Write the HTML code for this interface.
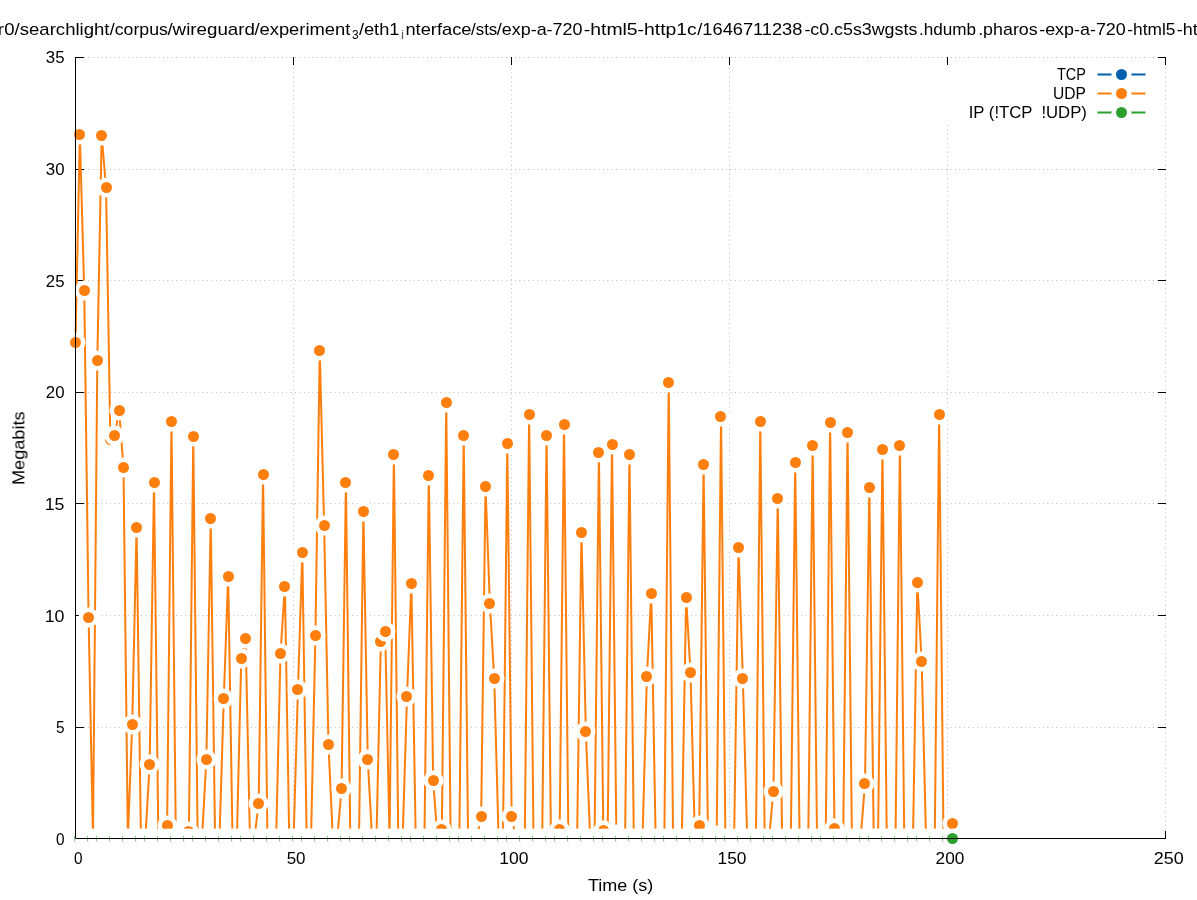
<!DOCTYPE html>
<html><head><meta charset="utf-8"><title>plot</title>
<style>html,body{margin:0;padding:0;background:#fff;}svg{display:block;}text{font-family:"Liberation Sans",sans-serif;fill:#000;}</style></head><body>
<svg width="1197" height="900" viewBox="0 0 1197 900">
<rect x="0" y="0" width="1197" height="900" fill="#fff"/>
<g stroke="#bcbcbc" stroke-width="1" stroke-dasharray="1 3.4" fill="none">
<line x1="75.0" y1="727.5" x2="1166.0" y2="727.5"/>
<line x1="75.0" y1="615.5" x2="1166.0" y2="615.5"/>
<line x1="75.0" y1="503.5" x2="1166.0" y2="503.5"/>
<line x1="75.0" y1="392.5" x2="1166.0" y2="392.5"/>
<line x1="75.0" y1="280.5" x2="1166.0" y2="280.5"/>
<line x1="75.0" y1="169.5" x2="1166.0" y2="169.5"/>
<line x1="75.0" y1="57.5" x2="1166.0" y2="57.5"/>
<line x1="293.5" y1="839.0" x2="293.5" y2="57.0"/>
<line x1="511.5" y1="839.0" x2="511.5" y2="57.0"/>
<line x1="729.5" y1="839.0" x2="729.5" y2="57.0"/>
<line x1="947.5" y1="839.0" x2="947.5" y2="57.0"/>
<line x1="1165.5" y1="839.0" x2="1165.5" y2="57.0"/>
</g>
<g stroke="#000" stroke-width="1" fill="none">
<line x1="75.5" y1="838.5" x2="84.0" y2="838.5"/>
<line x1="1166.0" y1="838.5" x2="1158.0" y2="838.5"/>
<line x1="75.5" y1="727.5" x2="84.0" y2="727.5"/>
<line x1="1166.0" y1="727.5" x2="1158.0" y2="727.5"/>
<line x1="75.5" y1="615.5" x2="84.0" y2="615.5"/>
<line x1="1166.0" y1="615.5" x2="1158.0" y2="615.5"/>
<line x1="75.5" y1="503.5" x2="84.0" y2="503.5"/>
<line x1="1166.0" y1="503.5" x2="1158.0" y2="503.5"/>
<line x1="75.5" y1="392.5" x2="84.0" y2="392.5"/>
<line x1="1166.0" y1="392.5" x2="1158.0" y2="392.5"/>
<line x1="75.5" y1="280.5" x2="84.0" y2="280.5"/>
<line x1="1166.0" y1="280.5" x2="1158.0" y2="280.5"/>
<line x1="75.5" y1="169.5" x2="84.0" y2="169.5"/>
<line x1="1166.0" y1="169.5" x2="1158.0" y2="169.5"/>
<line x1="75.5" y1="57.5" x2="84.0" y2="57.5"/>
<line x1="1166.0" y1="57.5" x2="1158.0" y2="57.5"/>
<line x1="75.5" y1="838.5" x2="75.5" y2="831.0"/>
<line x1="75.5" y1="57.0" x2="75.5" y2="65.0"/>
<line x1="293.5" y1="838.5" x2="293.5" y2="831.0"/>
<line x1="293.5" y1="57.0" x2="293.5" y2="65.0"/>
<line x1="511.5" y1="838.5" x2="511.5" y2="831.0"/>
<line x1="511.5" y1="57.0" x2="511.5" y2="65.0"/>
<line x1="729.5" y1="838.5" x2="729.5" y2="831.0"/>
<line x1="729.5" y1="57.0" x2="729.5" y2="65.0"/>
<line x1="947.5" y1="838.5" x2="947.5" y2="831.0"/>
<line x1="947.5" y1="57.0" x2="947.5" y2="65.0"/>
<line x1="1165.5" y1="838.5" x2="1165.5" y2="831.0"/>
<line x1="1165.5" y1="57.0" x2="1165.5" y2="65.0"/>
</g>
<rect x="945" y="65" width="210" height="57" fill="#fff"/>
<polyline fill="none" stroke="#ff7f0e" stroke-width="2" stroke-linejoin="round" stroke-linecap="butt" points="75.50,342.5 79.86,134.5 84.22,290.5 88.59,617.5 92.95,838.5 97.31,360.5 101.67,135.5 106.03,187.5 110.39,439.5 114.76,435.5 119.12,410.5 123.48,467.5 127.84,838.5 132.20,724.5 136.57,527.5 140.93,838.5 145.29,838.5 149.65,764.5 154.01,482.5 158.37,838.5 162.74,838.5 167.10,825.5 171.46,421.5 175.82,838.5 180.18,838.5 184.54,838.5 188.91,831.5 193.27,436.5 197.63,838.5 201.99,838.5 206.35,759.5 210.72,518.5 215.08,838.5 219.44,838.5 223.80,698.5 228.16,576.5 232.52,838.5 236.89,838.5 241.25,658.5 245.61,638.5 249.97,838.5 254.33,838.5 258.70,803.5 263.06,474.5 267.42,838.5 271.78,838.5 276.14,838.5 280.50,653.5 284.87,586.5 289.23,838.5 293.59,838.5 297.95,689.5 302.31,552.5 306.68,838.5 311.04,838.5 315.40,635.5 319.76,350.5 324.12,525.5 328.48,744.5 332.85,838.5 337.21,838.5 341.57,788.5 345.93,482.5 350.29,838.5 354.66,838.5 359.02,838.5 363.38,511.5 367.74,759.5 372.10,838.5 376.46,838.5 380.83,641.5 385.19,631.5 389.55,838.5 393.91,454.5 398.27,838.5 402.63,838.5 407.00,696.5 411.36,583.5 415.72,838.5 420.08,838.5 424.44,838.5 428.81,475.5 433.17,780.5 437.53,838.5 441.89,829.5 446.25,402.5 450.61,838.5 454.98,838.5 459.34,838.5 463.70,435.5 468.06,838.5 472.42,838.5 476.79,838.5 481.15,816.5 485.51,486.5 489.87,603.5 494.23,678.5 498.59,838.5 502.96,838.5 507.32,443.5 511.68,816.5 516.04,838.5 520.40,838.5 524.77,838.5 529.13,414.5 533.49,838.5 537.85,838.5 542.21,838.5 546.57,435.5 550.94,838.5 555.30,838.5 559.66,829.5 564.02,424.5 568.38,838.5 572.75,838.5 577.11,838.5 581.47,532.5 585.83,731.5 590.19,838.5 594.55,838.5 598.92,452.5 603.28,830.5 607.64,838.5 612.00,444.5 616.36,834.5 620.72,838.5 625.09,838.5 629.45,454.5 633.81,838.5 638.17,838.5 642.53,838.5 646.90,676.5 651.26,593.5 655.62,838.5 659.98,838.5 664.34,838.5 668.70,382.5 673.07,838.5 677.43,838.5 681.79,838.5 686.15,597.5 690.51,672.5 694.88,838.5 699.24,825.5 703.60,464.5 707.96,838.5 712.32,838.5 716.68,835.5 721.05,416.5 725.41,838.5 729.77,838.5 734.13,838.5 738.49,547.5 742.86,678.5 747.22,838.5 751.58,838.5 755.94,838.5 760.30,421.5 764.66,838.5 769.03,838.5 773.39,791.5 777.75,498.5 782.11,838.5 786.47,838.5 790.84,838.5 795.20,462.5 799.56,838.5 803.92,838.5 808.28,838.5 812.64,445.5 817.01,838.5 821.37,838.5 825.73,838.5 830.09,422.5 834.45,828.5 838.81,838.5 843.18,838.5 847.54,432.5 851.90,838.5 856.26,838.5 860.62,838.5 864.99,783.5 869.35,487.5 873.71,838.5 878.07,838.5 882.43,449.5 886.79,838.5 891.16,838.5 895.52,838.5 899.88,445.5 904.24,838.5 908.60,838.5 912.97,838.5 917.33,582.5 921.69,661.5 926.05,838.5 930.41,838.5 934.77,838.5 939.14,414.5 943.50,838.5 947.86,838.5 952.22,823.5"/>
<circle cx="75.5" cy="342.5" r="10.0" fill="#fff"/><circle cx="75.5" cy="342.5" r="5.5" fill="#ff7f0e"/>
<circle cx="79.5" cy="134.5" r="10.0" fill="#fff"/><circle cx="79.5" cy="134.5" r="5.5" fill="#ff7f0e"/>
<circle cx="84.5" cy="290.5" r="10.0" fill="#fff"/><circle cx="84.5" cy="290.5" r="5.5" fill="#ff7f0e"/>
<circle cx="88.5" cy="617.5" r="10.0" fill="#fff"/><circle cx="88.5" cy="617.5" r="5.5" fill="#ff7f0e"/>
<circle cx="97.5" cy="360.5" r="10.0" fill="#fff"/><circle cx="97.5" cy="360.5" r="5.5" fill="#ff7f0e"/>
<circle cx="101.5" cy="135.5" r="10.0" fill="#fff"/><circle cx="101.5" cy="135.5" r="5.5" fill="#ff7f0e"/>
<circle cx="106.5" cy="187.5" r="10.0" fill="#fff"/><circle cx="106.5" cy="187.5" r="5.5" fill="#ff7f0e"/>
<circle cx="110.5" cy="439.5" r="10.0" fill="#fff"/><circle cx="110.5" cy="439.5" r="5.5" fill="#ff7f0e"/>
<circle cx="114.5" cy="435.5" r="10.0" fill="#fff"/><circle cx="114.5" cy="435.5" r="5.5" fill="#ff7f0e"/>
<circle cx="119.5" cy="410.5" r="10.0" fill="#fff"/><circle cx="119.5" cy="410.5" r="5.5" fill="#ff7f0e"/>
<circle cx="123.5" cy="467.5" r="10.0" fill="#fff"/><circle cx="123.5" cy="467.5" r="5.5" fill="#ff7f0e"/>
<circle cx="132.5" cy="724.5" r="10.0" fill="#fff"/><circle cx="132.5" cy="724.5" r="5.5" fill="#ff7f0e"/>
<circle cx="136.5" cy="527.5" r="10.0" fill="#fff"/><circle cx="136.5" cy="527.5" r="5.5" fill="#ff7f0e"/>
<circle cx="149.5" cy="764.5" r="10.0" fill="#fff"/><circle cx="149.5" cy="764.5" r="5.5" fill="#ff7f0e"/>
<circle cx="154.5" cy="482.5" r="10.0" fill="#fff"/><circle cx="154.5" cy="482.5" r="5.5" fill="#ff7f0e"/>
<circle cx="167.5" cy="825.5" r="10.0" fill="#fff"/><circle cx="167.5" cy="825.5" r="5.5" fill="#ff7f0e"/>
<circle cx="171.5" cy="421.5" r="10.0" fill="#fff"/><circle cx="171.5" cy="421.5" r="5.5" fill="#ff7f0e"/>
<circle cx="188.5" cy="831.5" r="10.0" fill="#fff"/><circle cx="188.5" cy="831.5" r="5.5" fill="#ff7f0e"/>
<circle cx="193.5" cy="436.5" r="10.0" fill="#fff"/><circle cx="193.5" cy="436.5" r="5.5" fill="#ff7f0e"/>
<circle cx="206.5" cy="759.5" r="10.0" fill="#fff"/><circle cx="206.5" cy="759.5" r="5.5" fill="#ff7f0e"/>
<circle cx="210.5" cy="518.5" r="10.0" fill="#fff"/><circle cx="210.5" cy="518.5" r="5.5" fill="#ff7f0e"/>
<circle cx="223.5" cy="698.5" r="10.0" fill="#fff"/><circle cx="223.5" cy="698.5" r="5.5" fill="#ff7f0e"/>
<circle cx="228.5" cy="576.5" r="10.0" fill="#fff"/><circle cx="228.5" cy="576.5" r="5.5" fill="#ff7f0e"/>
<circle cx="241.5" cy="658.5" r="10.0" fill="#fff"/><circle cx="241.5" cy="658.5" r="5.5" fill="#ff7f0e"/>
<circle cx="245.5" cy="638.5" r="10.0" fill="#fff"/><circle cx="245.5" cy="638.5" r="5.5" fill="#ff7f0e"/>
<circle cx="258.5" cy="803.5" r="10.0" fill="#fff"/><circle cx="258.5" cy="803.5" r="5.5" fill="#ff7f0e"/>
<circle cx="263.5" cy="474.5" r="10.0" fill="#fff"/><circle cx="263.5" cy="474.5" r="5.5" fill="#ff7f0e"/>
<circle cx="280.5" cy="653.5" r="10.0" fill="#fff"/><circle cx="280.5" cy="653.5" r="5.5" fill="#ff7f0e"/>
<circle cx="284.5" cy="586.5" r="10.0" fill="#fff"/><circle cx="284.5" cy="586.5" r="5.5" fill="#ff7f0e"/>
<circle cx="297.5" cy="689.5" r="10.0" fill="#fff"/><circle cx="297.5" cy="689.5" r="5.5" fill="#ff7f0e"/>
<circle cx="302.5" cy="552.5" r="10.0" fill="#fff"/><circle cx="302.5" cy="552.5" r="5.5" fill="#ff7f0e"/>
<circle cx="315.5" cy="635.5" r="10.0" fill="#fff"/><circle cx="315.5" cy="635.5" r="5.5" fill="#ff7f0e"/>
<circle cx="319.5" cy="350.5" r="10.0" fill="#fff"/><circle cx="319.5" cy="350.5" r="5.5" fill="#ff7f0e"/>
<circle cx="324.5" cy="525.5" r="10.0" fill="#fff"/><circle cx="324.5" cy="525.5" r="5.5" fill="#ff7f0e"/>
<circle cx="328.5" cy="744.5" r="10.0" fill="#fff"/><circle cx="328.5" cy="744.5" r="5.5" fill="#ff7f0e"/>
<circle cx="341.5" cy="788.5" r="10.0" fill="#fff"/><circle cx="341.5" cy="788.5" r="5.5" fill="#ff7f0e"/>
<circle cx="345.5" cy="482.5" r="10.0" fill="#fff"/><circle cx="345.5" cy="482.5" r="5.5" fill="#ff7f0e"/>
<circle cx="363.5" cy="511.5" r="10.0" fill="#fff"/><circle cx="363.5" cy="511.5" r="5.5" fill="#ff7f0e"/>
<circle cx="367.5" cy="759.5" r="10.0" fill="#fff"/><circle cx="367.5" cy="759.5" r="5.5" fill="#ff7f0e"/>
<circle cx="380.5" cy="641.5" r="10.0" fill="#fff"/><circle cx="380.5" cy="641.5" r="5.5" fill="#ff7f0e"/>
<circle cx="385.5" cy="631.5" r="10.0" fill="#fff"/><circle cx="385.5" cy="631.5" r="5.5" fill="#ff7f0e"/>
<circle cx="393.5" cy="454.5" r="10.0" fill="#fff"/><circle cx="393.5" cy="454.5" r="5.5" fill="#ff7f0e"/>
<circle cx="406.5" cy="696.5" r="10.0" fill="#fff"/><circle cx="406.5" cy="696.5" r="5.5" fill="#ff7f0e"/>
<circle cx="411.5" cy="583.5" r="10.0" fill="#fff"/><circle cx="411.5" cy="583.5" r="5.5" fill="#ff7f0e"/>
<circle cx="428.5" cy="475.5" r="10.0" fill="#fff"/><circle cx="428.5" cy="475.5" r="5.5" fill="#ff7f0e"/>
<circle cx="433.5" cy="780.5" r="10.0" fill="#fff"/><circle cx="433.5" cy="780.5" r="5.5" fill="#ff7f0e"/>
<circle cx="441.5" cy="829.5" r="10.0" fill="#fff"/><circle cx="441.5" cy="829.5" r="5.5" fill="#ff7f0e"/>
<circle cx="446.5" cy="402.5" r="10.0" fill="#fff"/><circle cx="446.5" cy="402.5" r="5.5" fill="#ff7f0e"/>
<circle cx="463.5" cy="435.5" r="10.0" fill="#fff"/><circle cx="463.5" cy="435.5" r="5.5" fill="#ff7f0e"/>
<circle cx="481.5" cy="816.5" r="10.0" fill="#fff"/><circle cx="481.5" cy="816.5" r="5.5" fill="#ff7f0e"/>
<circle cx="485.5" cy="486.5" r="10.0" fill="#fff"/><circle cx="485.5" cy="486.5" r="5.5" fill="#ff7f0e"/>
<circle cx="489.5" cy="603.5" r="10.0" fill="#fff"/><circle cx="489.5" cy="603.5" r="5.5" fill="#ff7f0e"/>
<circle cx="494.5" cy="678.5" r="10.0" fill="#fff"/><circle cx="494.5" cy="678.5" r="5.5" fill="#ff7f0e"/>
<circle cx="507.5" cy="443.5" r="10.0" fill="#fff"/><circle cx="507.5" cy="443.5" r="5.5" fill="#ff7f0e"/>
<circle cx="511.5" cy="816.5" r="10.0" fill="#fff"/><circle cx="511.5" cy="816.5" r="5.5" fill="#ff7f0e"/>
<circle cx="529.5" cy="414.5" r="10.0" fill="#fff"/><circle cx="529.5" cy="414.5" r="5.5" fill="#ff7f0e"/>
<circle cx="546.5" cy="435.5" r="10.0" fill="#fff"/><circle cx="546.5" cy="435.5" r="5.5" fill="#ff7f0e"/>
<circle cx="559.5" cy="829.5" r="10.0" fill="#fff"/><circle cx="559.5" cy="829.5" r="5.5" fill="#ff7f0e"/>
<circle cx="564.5" cy="424.5" r="10.0" fill="#fff"/><circle cx="564.5" cy="424.5" r="5.5" fill="#ff7f0e"/>
<circle cx="581.5" cy="532.5" r="10.0" fill="#fff"/><circle cx="581.5" cy="532.5" r="5.5" fill="#ff7f0e"/>
<circle cx="585.5" cy="731.5" r="10.0" fill="#fff"/><circle cx="585.5" cy="731.5" r="5.5" fill="#ff7f0e"/>
<circle cx="598.5" cy="452.5" r="10.0" fill="#fff"/><circle cx="598.5" cy="452.5" r="5.5" fill="#ff7f0e"/>
<circle cx="603.5" cy="830.5" r="10.0" fill="#fff"/><circle cx="603.5" cy="830.5" r="5.5" fill="#ff7f0e"/>
<circle cx="612.5" cy="444.5" r="10.0" fill="#fff"/><circle cx="612.5" cy="444.5" r="5.5" fill="#ff7f0e"/>
<circle cx="616.5" cy="834.5" r="10.0" fill="#fff"/><circle cx="616.5" cy="834.5" r="5.5" fill="#ff7f0e"/>
<circle cx="629.5" cy="454.5" r="10.0" fill="#fff"/><circle cx="629.5" cy="454.5" r="5.5" fill="#ff7f0e"/>
<circle cx="646.5" cy="676.5" r="10.0" fill="#fff"/><circle cx="646.5" cy="676.5" r="5.5" fill="#ff7f0e"/>
<circle cx="651.5" cy="593.5" r="10.0" fill="#fff"/><circle cx="651.5" cy="593.5" r="5.5" fill="#ff7f0e"/>
<circle cx="668.5" cy="382.5" r="10.0" fill="#fff"/><circle cx="668.5" cy="382.5" r="5.5" fill="#ff7f0e"/>
<circle cx="686.5" cy="597.5" r="10.0" fill="#fff"/><circle cx="686.5" cy="597.5" r="5.5" fill="#ff7f0e"/>
<circle cx="690.5" cy="672.5" r="10.0" fill="#fff"/><circle cx="690.5" cy="672.5" r="5.5" fill="#ff7f0e"/>
<circle cx="699.5" cy="825.5" r="10.0" fill="#fff"/><circle cx="699.5" cy="825.5" r="5.5" fill="#ff7f0e"/>
<circle cx="703.5" cy="464.5" r="10.0" fill="#fff"/><circle cx="703.5" cy="464.5" r="5.5" fill="#ff7f0e"/>
<circle cx="716.5" cy="835.5" r="10.0" fill="#fff"/><circle cx="716.5" cy="835.5" r="5.5" fill="#ff7f0e"/>
<circle cx="720.5" cy="416.5" r="10.0" fill="#fff"/><circle cx="720.5" cy="416.5" r="5.5" fill="#ff7f0e"/>
<circle cx="738.5" cy="547.5" r="10.0" fill="#fff"/><circle cx="738.5" cy="547.5" r="5.5" fill="#ff7f0e"/>
<circle cx="742.5" cy="678.5" r="10.0" fill="#fff"/><circle cx="742.5" cy="678.5" r="5.5" fill="#ff7f0e"/>
<circle cx="760.5" cy="421.5" r="10.0" fill="#fff"/><circle cx="760.5" cy="421.5" r="5.5" fill="#ff7f0e"/>
<circle cx="773.5" cy="791.5" r="10.0" fill="#fff"/><circle cx="773.5" cy="791.5" r="5.5" fill="#ff7f0e"/>
<circle cx="777.5" cy="498.5" r="10.0" fill="#fff"/><circle cx="777.5" cy="498.5" r="5.5" fill="#ff7f0e"/>
<circle cx="795.5" cy="462.5" r="10.0" fill="#fff"/><circle cx="795.5" cy="462.5" r="5.5" fill="#ff7f0e"/>
<circle cx="812.5" cy="445.5" r="10.0" fill="#fff"/><circle cx="812.5" cy="445.5" r="5.5" fill="#ff7f0e"/>
<circle cx="830.5" cy="422.5" r="10.0" fill="#fff"/><circle cx="830.5" cy="422.5" r="5.5" fill="#ff7f0e"/>
<circle cx="834.5" cy="828.5" r="10.0" fill="#fff"/><circle cx="834.5" cy="828.5" r="5.5" fill="#ff7f0e"/>
<circle cx="847.5" cy="432.5" r="10.0" fill="#fff"/><circle cx="847.5" cy="432.5" r="5.5" fill="#ff7f0e"/>
<circle cx="864.5" cy="783.5" r="10.0" fill="#fff"/><circle cx="864.5" cy="783.5" r="5.5" fill="#ff7f0e"/>
<circle cx="869.5" cy="487.5" r="10.0" fill="#fff"/><circle cx="869.5" cy="487.5" r="5.5" fill="#ff7f0e"/>
<circle cx="882.5" cy="449.5" r="10.0" fill="#fff"/><circle cx="882.5" cy="449.5" r="5.5" fill="#ff7f0e"/>
<circle cx="899.5" cy="445.5" r="10.0" fill="#fff"/><circle cx="899.5" cy="445.5" r="5.5" fill="#ff7f0e"/>
<circle cx="917.5" cy="582.5" r="10.0" fill="#fff"/><circle cx="917.5" cy="582.5" r="5.5" fill="#ff7f0e"/>
<circle cx="921.5" cy="661.5" r="10.0" fill="#fff"/><circle cx="921.5" cy="661.5" r="5.5" fill="#ff7f0e"/>
<circle cx="939.5" cy="414.5" r="10.0" fill="#fff"/><circle cx="939.5" cy="414.5" r="5.5" fill="#ff7f0e"/>
<circle cx="952.5" cy="823.5" r="10.0" fill="#fff"/><circle cx="952.5" cy="823.5" r="5.5" fill="#ff7f0e"/>
<circle cx="75.5" cy="838.5" r="10.0" fill="#fff"/><circle cx="75.5" cy="838.5" r="5.5" fill="#2ca02c"/>
<circle cx="79.5" cy="838.5" r="10.0" fill="#fff"/><circle cx="79.5" cy="838.5" r="5.5" fill="#2ca02c"/>
<circle cx="84.5" cy="838.5" r="10.0" fill="#fff"/><circle cx="84.5" cy="838.5" r="5.5" fill="#2ca02c"/>
<circle cx="88.5" cy="838.5" r="10.0" fill="#fff"/><circle cx="88.5" cy="838.5" r="5.5" fill="#2ca02c"/>
<circle cx="92.5" cy="838.5" r="10.0" fill="#fff"/><circle cx="92.5" cy="838.5" r="5.5" fill="#2ca02c"/>
<circle cx="97.5" cy="838.5" r="10.0" fill="#fff"/><circle cx="97.5" cy="838.5" r="5.5" fill="#2ca02c"/>
<circle cx="101.5" cy="838.5" r="10.0" fill="#fff"/><circle cx="101.5" cy="838.5" r="5.5" fill="#2ca02c"/>
<circle cx="106.5" cy="838.5" r="10.0" fill="#fff"/><circle cx="106.5" cy="838.5" r="5.5" fill="#2ca02c"/>
<circle cx="110.5" cy="838.5" r="10.0" fill="#fff"/><circle cx="110.5" cy="838.5" r="5.5" fill="#2ca02c"/>
<circle cx="114.5" cy="838.5" r="10.0" fill="#fff"/><circle cx="114.5" cy="838.5" r="5.5" fill="#2ca02c"/>
<circle cx="119.5" cy="838.5" r="10.0" fill="#fff"/><circle cx="119.5" cy="838.5" r="5.5" fill="#2ca02c"/>
<circle cx="123.5" cy="838.5" r="10.0" fill="#fff"/><circle cx="123.5" cy="838.5" r="5.5" fill="#2ca02c"/>
<circle cx="127.5" cy="838.5" r="10.0" fill="#fff"/><circle cx="127.5" cy="838.5" r="5.5" fill="#2ca02c"/>
<circle cx="132.5" cy="838.5" r="10.0" fill="#fff"/><circle cx="132.5" cy="838.5" r="5.5" fill="#2ca02c"/>
<circle cx="136.5" cy="838.5" r="10.0" fill="#fff"/><circle cx="136.5" cy="838.5" r="5.5" fill="#2ca02c"/>
<circle cx="140.5" cy="838.5" r="10.0" fill="#fff"/><circle cx="140.5" cy="838.5" r="5.5" fill="#2ca02c"/>
<circle cx="145.5" cy="838.5" r="10.0" fill="#fff"/><circle cx="145.5" cy="838.5" r="5.5" fill="#2ca02c"/>
<circle cx="149.5" cy="838.5" r="10.0" fill="#fff"/><circle cx="149.5" cy="838.5" r="5.5" fill="#2ca02c"/>
<circle cx="154.5" cy="838.5" r="10.0" fill="#fff"/><circle cx="154.5" cy="838.5" r="5.5" fill="#2ca02c"/>
<circle cx="158.5" cy="838.5" r="10.0" fill="#fff"/><circle cx="158.5" cy="838.5" r="5.5" fill="#2ca02c"/>
<circle cx="162.5" cy="838.5" r="10.0" fill="#fff"/><circle cx="162.5" cy="838.5" r="5.5" fill="#2ca02c"/>
<circle cx="167.5" cy="838.5" r="10.0" fill="#fff"/><circle cx="167.5" cy="838.5" r="5.5" fill="#2ca02c"/>
<circle cx="171.5" cy="838.5" r="10.0" fill="#fff"/><circle cx="171.5" cy="838.5" r="5.5" fill="#2ca02c"/>
<circle cx="175.5" cy="838.5" r="10.0" fill="#fff"/><circle cx="175.5" cy="838.5" r="5.5" fill="#2ca02c"/>
<circle cx="180.5" cy="838.5" r="10.0" fill="#fff"/><circle cx="180.5" cy="838.5" r="5.5" fill="#2ca02c"/>
<circle cx="184.5" cy="838.5" r="10.0" fill="#fff"/><circle cx="184.5" cy="838.5" r="5.5" fill="#2ca02c"/>
<circle cx="188.5" cy="838.5" r="10.0" fill="#fff"/><circle cx="188.5" cy="838.5" r="5.5" fill="#2ca02c"/>
<circle cx="193.5" cy="838.5" r="10.0" fill="#fff"/><circle cx="193.5" cy="838.5" r="5.5" fill="#2ca02c"/>
<circle cx="197.5" cy="838.5" r="10.0" fill="#fff"/><circle cx="197.5" cy="838.5" r="5.5" fill="#2ca02c"/>
<circle cx="202.5" cy="838.5" r="10.0" fill="#fff"/><circle cx="202.5" cy="838.5" r="5.5" fill="#2ca02c"/>
<circle cx="206.5" cy="838.5" r="10.0" fill="#fff"/><circle cx="206.5" cy="838.5" r="5.5" fill="#2ca02c"/>
<circle cx="210.5" cy="838.5" r="10.0" fill="#fff"/><circle cx="210.5" cy="838.5" r="5.5" fill="#2ca02c"/>
<circle cx="215.5" cy="838.5" r="10.0" fill="#fff"/><circle cx="215.5" cy="838.5" r="5.5" fill="#2ca02c"/>
<circle cx="219.5" cy="838.5" r="10.0" fill="#fff"/><circle cx="219.5" cy="838.5" r="5.5" fill="#2ca02c"/>
<circle cx="223.5" cy="838.5" r="10.0" fill="#fff"/><circle cx="223.5" cy="838.5" r="5.5" fill="#2ca02c"/>
<circle cx="228.5" cy="838.5" r="10.0" fill="#fff"/><circle cx="228.5" cy="838.5" r="5.5" fill="#2ca02c"/>
<circle cx="232.5" cy="838.5" r="10.0" fill="#fff"/><circle cx="232.5" cy="838.5" r="5.5" fill="#2ca02c"/>
<circle cx="236.5" cy="838.5" r="10.0" fill="#fff"/><circle cx="236.5" cy="838.5" r="5.5" fill="#2ca02c"/>
<circle cx="241.5" cy="838.5" r="10.0" fill="#fff"/><circle cx="241.5" cy="838.5" r="5.5" fill="#2ca02c"/>
<circle cx="245.5" cy="838.5" r="10.0" fill="#fff"/><circle cx="245.5" cy="838.5" r="5.5" fill="#2ca02c"/>
<circle cx="250.5" cy="838.5" r="10.0" fill="#fff"/><circle cx="250.5" cy="838.5" r="5.5" fill="#2ca02c"/>
<circle cx="254.5" cy="838.5" r="10.0" fill="#fff"/><circle cx="254.5" cy="838.5" r="5.5" fill="#2ca02c"/>
<circle cx="258.5" cy="838.5" r="10.0" fill="#fff"/><circle cx="258.5" cy="838.5" r="5.5" fill="#2ca02c"/>
<circle cx="263.5" cy="838.5" r="10.0" fill="#fff"/><circle cx="263.5" cy="838.5" r="5.5" fill="#2ca02c"/>
<circle cx="267.5" cy="838.5" r="10.0" fill="#fff"/><circle cx="267.5" cy="838.5" r="5.5" fill="#2ca02c"/>
<circle cx="271.5" cy="838.5" r="10.0" fill="#fff"/><circle cx="271.5" cy="838.5" r="5.5" fill="#2ca02c"/>
<circle cx="276.5" cy="838.5" r="10.0" fill="#fff"/><circle cx="276.5" cy="838.5" r="5.5" fill="#2ca02c"/>
<circle cx="280.5" cy="838.5" r="10.0" fill="#fff"/><circle cx="280.5" cy="838.5" r="5.5" fill="#2ca02c"/>
<circle cx="284.5" cy="838.5" r="10.0" fill="#fff"/><circle cx="284.5" cy="838.5" r="5.5" fill="#2ca02c"/>
<circle cx="289.5" cy="838.5" r="10.0" fill="#fff"/><circle cx="289.5" cy="838.5" r="5.5" fill="#2ca02c"/>
<circle cx="293.5" cy="838.5" r="10.0" fill="#fff"/><circle cx="293.5" cy="838.5" r="5.5" fill="#2ca02c"/>
<circle cx="297.5" cy="838.5" r="10.0" fill="#fff"/><circle cx="297.5" cy="838.5" r="5.5" fill="#2ca02c"/>
<circle cx="302.5" cy="838.5" r="10.0" fill="#fff"/><circle cx="302.5" cy="838.5" r="5.5" fill="#2ca02c"/>
<circle cx="306.5" cy="838.5" r="10.0" fill="#fff"/><circle cx="306.5" cy="838.5" r="5.5" fill="#2ca02c"/>
<circle cx="311.5" cy="838.5" r="10.0" fill="#fff"/><circle cx="311.5" cy="838.5" r="5.5" fill="#2ca02c"/>
<circle cx="315.5" cy="838.5" r="10.0" fill="#fff"/><circle cx="315.5" cy="838.5" r="5.5" fill="#2ca02c"/>
<circle cx="319.5" cy="838.5" r="10.0" fill="#fff"/><circle cx="319.5" cy="838.5" r="5.5" fill="#2ca02c"/>
<circle cx="324.5" cy="838.5" r="10.0" fill="#fff"/><circle cx="324.5" cy="838.5" r="5.5" fill="#2ca02c"/>
<circle cx="328.5" cy="838.5" r="10.0" fill="#fff"/><circle cx="328.5" cy="838.5" r="5.5" fill="#2ca02c"/>
<circle cx="332.5" cy="838.5" r="10.0" fill="#fff"/><circle cx="332.5" cy="838.5" r="5.5" fill="#2ca02c"/>
<circle cx="337.5" cy="838.5" r="10.0" fill="#fff"/><circle cx="337.5" cy="838.5" r="5.5" fill="#2ca02c"/>
<circle cx="341.5" cy="838.5" r="10.0" fill="#fff"/><circle cx="341.5" cy="838.5" r="5.5" fill="#2ca02c"/>
<circle cx="345.5" cy="838.5" r="10.0" fill="#fff"/><circle cx="345.5" cy="838.5" r="5.5" fill="#2ca02c"/>
<circle cx="350.5" cy="838.5" r="10.0" fill="#fff"/><circle cx="350.5" cy="838.5" r="5.5" fill="#2ca02c"/>
<circle cx="354.5" cy="838.5" r="10.0" fill="#fff"/><circle cx="354.5" cy="838.5" r="5.5" fill="#2ca02c"/>
<circle cx="359.5" cy="838.5" r="10.0" fill="#fff"/><circle cx="359.5" cy="838.5" r="5.5" fill="#2ca02c"/>
<circle cx="363.5" cy="838.5" r="10.0" fill="#fff"/><circle cx="363.5" cy="838.5" r="5.5" fill="#2ca02c"/>
<circle cx="367.5" cy="838.5" r="10.0" fill="#fff"/><circle cx="367.5" cy="838.5" r="5.5" fill="#2ca02c"/>
<circle cx="372.5" cy="838.5" r="10.0" fill="#fff"/><circle cx="372.5" cy="838.5" r="5.5" fill="#2ca02c"/>
<circle cx="376.5" cy="838.5" r="10.0" fill="#fff"/><circle cx="376.5" cy="838.5" r="5.5" fill="#2ca02c"/>
<circle cx="380.5" cy="838.5" r="10.0" fill="#fff"/><circle cx="380.5" cy="838.5" r="5.5" fill="#2ca02c"/>
<circle cx="385.5" cy="838.5" r="10.0" fill="#fff"/><circle cx="385.5" cy="838.5" r="5.5" fill="#2ca02c"/>
<circle cx="389.5" cy="838.5" r="10.0" fill="#fff"/><circle cx="389.5" cy="838.5" r="5.5" fill="#2ca02c"/>
<circle cx="393.5" cy="838.5" r="10.0" fill="#fff"/><circle cx="393.5" cy="838.5" r="5.5" fill="#2ca02c"/>
<circle cx="398.5" cy="838.5" r="10.0" fill="#fff"/><circle cx="398.5" cy="838.5" r="5.5" fill="#2ca02c"/>
<circle cx="402.5" cy="838.5" r="10.0" fill="#fff"/><circle cx="402.5" cy="838.5" r="5.5" fill="#2ca02c"/>
<circle cx="406.5" cy="838.5" r="10.0" fill="#fff"/><circle cx="406.5" cy="838.5" r="5.5" fill="#2ca02c"/>
<circle cx="411.5" cy="838.5" r="10.0" fill="#fff"/><circle cx="411.5" cy="838.5" r="5.5" fill="#2ca02c"/>
<circle cx="415.5" cy="838.5" r="10.0" fill="#fff"/><circle cx="415.5" cy="838.5" r="5.5" fill="#2ca02c"/>
<circle cx="420.5" cy="838.5" r="10.0" fill="#fff"/><circle cx="420.5" cy="838.5" r="5.5" fill="#2ca02c"/>
<circle cx="424.5" cy="838.5" r="10.0" fill="#fff"/><circle cx="424.5" cy="838.5" r="5.5" fill="#2ca02c"/>
<circle cx="428.5" cy="838.5" r="10.0" fill="#fff"/><circle cx="428.5" cy="838.5" r="5.5" fill="#2ca02c"/>
<circle cx="433.5" cy="838.5" r="10.0" fill="#fff"/><circle cx="433.5" cy="838.5" r="5.5" fill="#2ca02c"/>
<circle cx="437.5" cy="838.5" r="10.0" fill="#fff"/><circle cx="437.5" cy="838.5" r="5.5" fill="#2ca02c"/>
<circle cx="441.5" cy="838.5" r="10.0" fill="#fff"/><circle cx="441.5" cy="838.5" r="5.5" fill="#2ca02c"/>
<circle cx="446.5" cy="838.5" r="10.0" fill="#fff"/><circle cx="446.5" cy="838.5" r="5.5" fill="#2ca02c"/>
<circle cx="450.5" cy="838.5" r="10.0" fill="#fff"/><circle cx="450.5" cy="838.5" r="5.5" fill="#2ca02c"/>
<circle cx="454.5" cy="838.5" r="10.0" fill="#fff"/><circle cx="454.5" cy="838.5" r="5.5" fill="#2ca02c"/>
<circle cx="459.5" cy="838.5" r="10.0" fill="#fff"/><circle cx="459.5" cy="838.5" r="5.5" fill="#2ca02c"/>
<circle cx="463.5" cy="838.5" r="10.0" fill="#fff"/><circle cx="463.5" cy="838.5" r="5.5" fill="#2ca02c"/>
<circle cx="468.5" cy="838.5" r="10.0" fill="#fff"/><circle cx="468.5" cy="838.5" r="5.5" fill="#2ca02c"/>
<circle cx="472.5" cy="838.5" r="10.0" fill="#fff"/><circle cx="472.5" cy="838.5" r="5.5" fill="#2ca02c"/>
<circle cx="476.5" cy="838.5" r="10.0" fill="#fff"/><circle cx="476.5" cy="838.5" r="5.5" fill="#2ca02c"/>
<circle cx="481.5" cy="838.5" r="10.0" fill="#fff"/><circle cx="481.5" cy="838.5" r="5.5" fill="#2ca02c"/>
<circle cx="485.5" cy="838.5" r="10.0" fill="#fff"/><circle cx="485.5" cy="838.5" r="5.5" fill="#2ca02c"/>
<circle cx="489.5" cy="838.5" r="10.0" fill="#fff"/><circle cx="489.5" cy="838.5" r="5.5" fill="#2ca02c"/>
<circle cx="494.5" cy="838.5" r="10.0" fill="#fff"/><circle cx="494.5" cy="838.5" r="5.5" fill="#2ca02c"/>
<circle cx="498.5" cy="838.5" r="10.0" fill="#fff"/><circle cx="498.5" cy="838.5" r="5.5" fill="#2ca02c"/>
<circle cx="502.5" cy="838.5" r="10.0" fill="#fff"/><circle cx="502.5" cy="838.5" r="5.5" fill="#2ca02c"/>
<circle cx="507.5" cy="838.5" r="10.0" fill="#fff"/><circle cx="507.5" cy="838.5" r="5.5" fill="#2ca02c"/>
<circle cx="511.5" cy="838.5" r="10.0" fill="#fff"/><circle cx="511.5" cy="838.5" r="5.5" fill="#2ca02c"/>
<circle cx="516.5" cy="838.5" r="10.0" fill="#fff"/><circle cx="516.5" cy="838.5" r="5.5" fill="#2ca02c"/>
<circle cx="520.5" cy="838.5" r="10.0" fill="#fff"/><circle cx="520.5" cy="838.5" r="5.5" fill="#2ca02c"/>
<circle cx="524.5" cy="838.5" r="10.0" fill="#fff"/><circle cx="524.5" cy="838.5" r="5.5" fill="#2ca02c"/>
<circle cx="529.5" cy="838.5" r="10.0" fill="#fff"/><circle cx="529.5" cy="838.5" r="5.5" fill="#2ca02c"/>
<circle cx="533.5" cy="838.5" r="10.0" fill="#fff"/><circle cx="533.5" cy="838.5" r="5.5" fill="#2ca02c"/>
<circle cx="537.5" cy="838.5" r="10.0" fill="#fff"/><circle cx="537.5" cy="838.5" r="5.5" fill="#2ca02c"/>
<circle cx="542.5" cy="838.5" r="10.0" fill="#fff"/><circle cx="542.5" cy="838.5" r="5.5" fill="#2ca02c"/>
<circle cx="546.5" cy="838.5" r="10.0" fill="#fff"/><circle cx="546.5" cy="838.5" r="5.5" fill="#2ca02c"/>
<circle cx="550.5" cy="838.5" r="10.0" fill="#fff"/><circle cx="550.5" cy="838.5" r="5.5" fill="#2ca02c"/>
<circle cx="555.5" cy="838.5" r="10.0" fill="#fff"/><circle cx="555.5" cy="838.5" r="5.5" fill="#2ca02c"/>
<circle cx="559.5" cy="838.5" r="10.0" fill="#fff"/><circle cx="559.5" cy="838.5" r="5.5" fill="#2ca02c"/>
<circle cx="564.5" cy="838.5" r="10.0" fill="#fff"/><circle cx="564.5" cy="838.5" r="5.5" fill="#2ca02c"/>
<circle cx="568.5" cy="838.5" r="10.0" fill="#fff"/><circle cx="568.5" cy="838.5" r="5.5" fill="#2ca02c"/>
<circle cx="572.5" cy="838.5" r="10.0" fill="#fff"/><circle cx="572.5" cy="838.5" r="5.5" fill="#2ca02c"/>
<circle cx="577.5" cy="838.5" r="10.0" fill="#fff"/><circle cx="577.5" cy="838.5" r="5.5" fill="#2ca02c"/>
<circle cx="581.5" cy="838.5" r="10.0" fill="#fff"/><circle cx="581.5" cy="838.5" r="5.5" fill="#2ca02c"/>
<circle cx="585.5" cy="838.5" r="10.0" fill="#fff"/><circle cx="585.5" cy="838.5" r="5.5" fill="#2ca02c"/>
<circle cx="590.5" cy="838.5" r="10.0" fill="#fff"/><circle cx="590.5" cy="838.5" r="5.5" fill="#2ca02c"/>
<circle cx="594.5" cy="838.5" r="10.0" fill="#fff"/><circle cx="594.5" cy="838.5" r="5.5" fill="#2ca02c"/>
<circle cx="598.5" cy="838.5" r="10.0" fill="#fff"/><circle cx="598.5" cy="838.5" r="5.5" fill="#2ca02c"/>
<circle cx="603.5" cy="838.5" r="10.0" fill="#fff"/><circle cx="603.5" cy="838.5" r="5.5" fill="#2ca02c"/>
<circle cx="607.5" cy="838.5" r="10.0" fill="#fff"/><circle cx="607.5" cy="838.5" r="5.5" fill="#2ca02c"/>
<circle cx="612.5" cy="838.5" r="10.0" fill="#fff"/><circle cx="612.5" cy="838.5" r="5.5" fill="#2ca02c"/>
<circle cx="616.5" cy="838.5" r="10.0" fill="#fff"/><circle cx="616.5" cy="838.5" r="5.5" fill="#2ca02c"/>
<circle cx="620.5" cy="838.5" r="10.0" fill="#fff"/><circle cx="620.5" cy="838.5" r="5.5" fill="#2ca02c"/>
<circle cx="625.5" cy="838.5" r="10.0" fill="#fff"/><circle cx="625.5" cy="838.5" r="5.5" fill="#2ca02c"/>
<circle cx="629.5" cy="838.5" r="10.0" fill="#fff"/><circle cx="629.5" cy="838.5" r="5.5" fill="#2ca02c"/>
<circle cx="633.5" cy="838.5" r="10.0" fill="#fff"/><circle cx="633.5" cy="838.5" r="5.5" fill="#2ca02c"/>
<circle cx="638.5" cy="838.5" r="10.0" fill="#fff"/><circle cx="638.5" cy="838.5" r="5.5" fill="#2ca02c"/>
<circle cx="642.5" cy="838.5" r="10.0" fill="#fff"/><circle cx="642.5" cy="838.5" r="5.5" fill="#2ca02c"/>
<circle cx="646.5" cy="838.5" r="10.0" fill="#fff"/><circle cx="646.5" cy="838.5" r="5.5" fill="#2ca02c"/>
<circle cx="651.5" cy="838.5" r="10.0" fill="#fff"/><circle cx="651.5" cy="838.5" r="5.5" fill="#2ca02c"/>
<circle cx="655.5" cy="838.5" r="10.0" fill="#fff"/><circle cx="655.5" cy="838.5" r="5.5" fill="#2ca02c"/>
<circle cx="659.5" cy="838.5" r="10.0" fill="#fff"/><circle cx="659.5" cy="838.5" r="5.5" fill="#2ca02c"/>
<circle cx="664.5" cy="838.5" r="10.0" fill="#fff"/><circle cx="664.5" cy="838.5" r="5.5" fill="#2ca02c"/>
<circle cx="668.5" cy="838.5" r="10.0" fill="#fff"/><circle cx="668.5" cy="838.5" r="5.5" fill="#2ca02c"/>
<circle cx="673.5" cy="838.5" r="10.0" fill="#fff"/><circle cx="673.5" cy="838.5" r="5.5" fill="#2ca02c"/>
<circle cx="677.5" cy="838.5" r="10.0" fill="#fff"/><circle cx="677.5" cy="838.5" r="5.5" fill="#2ca02c"/>
<circle cx="681.5" cy="838.5" r="10.0" fill="#fff"/><circle cx="681.5" cy="838.5" r="5.5" fill="#2ca02c"/>
<circle cx="686.5" cy="838.5" r="10.0" fill="#fff"/><circle cx="686.5" cy="838.5" r="5.5" fill="#2ca02c"/>
<circle cx="690.5" cy="838.5" r="10.0" fill="#fff"/><circle cx="690.5" cy="838.5" r="5.5" fill="#2ca02c"/>
<circle cx="694.5" cy="838.5" r="10.0" fill="#fff"/><circle cx="694.5" cy="838.5" r="5.5" fill="#2ca02c"/>
<circle cx="699.5" cy="838.5" r="10.0" fill="#fff"/><circle cx="699.5" cy="838.5" r="5.5" fill="#2ca02c"/>
<circle cx="703.5" cy="838.5" r="10.0" fill="#fff"/><circle cx="703.5" cy="838.5" r="5.5" fill="#2ca02c"/>
<circle cx="707.5" cy="838.5" r="10.0" fill="#fff"/><circle cx="707.5" cy="838.5" r="5.5" fill="#2ca02c"/>
<circle cx="712.5" cy="838.5" r="10.0" fill="#fff"/><circle cx="712.5" cy="838.5" r="5.5" fill="#2ca02c"/>
<circle cx="716.5" cy="838.5" r="10.0" fill="#fff"/><circle cx="716.5" cy="838.5" r="5.5" fill="#2ca02c"/>
<circle cx="720.5" cy="838.5" r="10.0" fill="#fff"/><circle cx="720.5" cy="838.5" r="5.5" fill="#2ca02c"/>
<circle cx="725.5" cy="838.5" r="10.0" fill="#fff"/><circle cx="725.5" cy="838.5" r="5.5" fill="#2ca02c"/>
<circle cx="729.5" cy="838.5" r="10.0" fill="#fff"/><circle cx="729.5" cy="838.5" r="5.5" fill="#2ca02c"/>
<circle cx="734.5" cy="838.5" r="10.0" fill="#fff"/><circle cx="734.5" cy="838.5" r="5.5" fill="#2ca02c"/>
<circle cx="738.5" cy="838.5" r="10.0" fill="#fff"/><circle cx="738.5" cy="838.5" r="5.5" fill="#2ca02c"/>
<circle cx="742.5" cy="838.5" r="10.0" fill="#fff"/><circle cx="742.5" cy="838.5" r="5.5" fill="#2ca02c"/>
<circle cx="747.5" cy="838.5" r="10.0" fill="#fff"/><circle cx="747.5" cy="838.5" r="5.5" fill="#2ca02c"/>
<circle cx="751.5" cy="838.5" r="10.0" fill="#fff"/><circle cx="751.5" cy="838.5" r="5.5" fill="#2ca02c"/>
<circle cx="755.5" cy="838.5" r="10.0" fill="#fff"/><circle cx="755.5" cy="838.5" r="5.5" fill="#2ca02c"/>
<circle cx="760.5" cy="838.5" r="10.0" fill="#fff"/><circle cx="760.5" cy="838.5" r="5.5" fill="#2ca02c"/>
<circle cx="764.5" cy="838.5" r="10.0" fill="#fff"/><circle cx="764.5" cy="838.5" r="5.5" fill="#2ca02c"/>
<circle cx="768.5" cy="838.5" r="10.0" fill="#fff"/><circle cx="768.5" cy="838.5" r="5.5" fill="#2ca02c"/>
<circle cx="773.5" cy="838.5" r="10.0" fill="#fff"/><circle cx="773.5" cy="838.5" r="5.5" fill="#2ca02c"/>
<circle cx="777.5" cy="838.5" r="10.0" fill="#fff"/><circle cx="777.5" cy="838.5" r="5.5" fill="#2ca02c"/>
<circle cx="782.5" cy="838.5" r="10.0" fill="#fff"/><circle cx="782.5" cy="838.5" r="5.5" fill="#2ca02c"/>
<circle cx="786.5" cy="838.5" r="10.0" fill="#fff"/><circle cx="786.5" cy="838.5" r="5.5" fill="#2ca02c"/>
<circle cx="790.5" cy="838.5" r="10.0" fill="#fff"/><circle cx="790.5" cy="838.5" r="5.5" fill="#2ca02c"/>
<circle cx="795.5" cy="838.5" r="10.0" fill="#fff"/><circle cx="795.5" cy="838.5" r="5.5" fill="#2ca02c"/>
<circle cx="799.5" cy="838.5" r="10.0" fill="#fff"/><circle cx="799.5" cy="838.5" r="5.5" fill="#2ca02c"/>
<circle cx="803.5" cy="838.5" r="10.0" fill="#fff"/><circle cx="803.5" cy="838.5" r="5.5" fill="#2ca02c"/>
<circle cx="808.5" cy="838.5" r="10.0" fill="#fff"/><circle cx="808.5" cy="838.5" r="5.5" fill="#2ca02c"/>
<circle cx="812.5" cy="838.5" r="10.0" fill="#fff"/><circle cx="812.5" cy="838.5" r="5.5" fill="#2ca02c"/>
<circle cx="816.5" cy="838.5" r="10.0" fill="#fff"/><circle cx="816.5" cy="838.5" r="5.5" fill="#2ca02c"/>
<circle cx="821.5" cy="838.5" r="10.0" fill="#fff"/><circle cx="821.5" cy="838.5" r="5.5" fill="#2ca02c"/>
<circle cx="825.5" cy="838.5" r="10.0" fill="#fff"/><circle cx="825.5" cy="838.5" r="5.5" fill="#2ca02c"/>
<circle cx="830.5" cy="838.5" r="10.0" fill="#fff"/><circle cx="830.5" cy="838.5" r="5.5" fill="#2ca02c"/>
<circle cx="834.5" cy="838.5" r="10.0" fill="#fff"/><circle cx="834.5" cy="838.5" r="5.5" fill="#2ca02c"/>
<circle cx="838.5" cy="838.5" r="10.0" fill="#fff"/><circle cx="838.5" cy="838.5" r="5.5" fill="#2ca02c"/>
<circle cx="843.5" cy="838.5" r="10.0" fill="#fff"/><circle cx="843.5" cy="838.5" r="5.5" fill="#2ca02c"/>
<circle cx="847.5" cy="838.5" r="10.0" fill="#fff"/><circle cx="847.5" cy="838.5" r="5.5" fill="#2ca02c"/>
<circle cx="851.5" cy="838.5" r="10.0" fill="#fff"/><circle cx="851.5" cy="838.5" r="5.5" fill="#2ca02c"/>
<circle cx="856.5" cy="838.5" r="10.0" fill="#fff"/><circle cx="856.5" cy="838.5" r="5.5" fill="#2ca02c"/>
<circle cx="860.5" cy="838.5" r="10.0" fill="#fff"/><circle cx="860.5" cy="838.5" r="5.5" fill="#2ca02c"/>
<circle cx="864.5" cy="838.5" r="10.0" fill="#fff"/><circle cx="864.5" cy="838.5" r="5.5" fill="#2ca02c"/>
<circle cx="869.5" cy="838.5" r="10.0" fill="#fff"/><circle cx="869.5" cy="838.5" r="5.5" fill="#2ca02c"/>
<circle cx="873.5" cy="838.5" r="10.0" fill="#fff"/><circle cx="873.5" cy="838.5" r="5.5" fill="#2ca02c"/>
<circle cx="878.5" cy="838.5" r="10.0" fill="#fff"/><circle cx="878.5" cy="838.5" r="5.5" fill="#2ca02c"/>
<circle cx="882.5" cy="838.5" r="10.0" fill="#fff"/><circle cx="882.5" cy="838.5" r="5.5" fill="#2ca02c"/>
<circle cx="886.5" cy="838.5" r="10.0" fill="#fff"/><circle cx="886.5" cy="838.5" r="5.5" fill="#2ca02c"/>
<circle cx="891.5" cy="838.5" r="10.0" fill="#fff"/><circle cx="891.5" cy="838.5" r="5.5" fill="#2ca02c"/>
<circle cx="895.5" cy="838.5" r="10.0" fill="#fff"/><circle cx="895.5" cy="838.5" r="5.5" fill="#2ca02c"/>
<circle cx="899.5" cy="838.5" r="10.0" fill="#fff"/><circle cx="899.5" cy="838.5" r="5.5" fill="#2ca02c"/>
<circle cx="904.5" cy="838.5" r="10.0" fill="#fff"/><circle cx="904.5" cy="838.5" r="5.5" fill="#2ca02c"/>
<circle cx="908.5" cy="838.5" r="10.0" fill="#fff"/><circle cx="908.5" cy="838.5" r="5.5" fill="#2ca02c"/>
<circle cx="912.5" cy="838.5" r="10.0" fill="#fff"/><circle cx="912.5" cy="838.5" r="5.5" fill="#2ca02c"/>
<circle cx="917.5" cy="838.5" r="10.0" fill="#fff"/><circle cx="917.5" cy="838.5" r="5.5" fill="#2ca02c"/>
<circle cx="921.5" cy="838.5" r="10.0" fill="#fff"/><circle cx="921.5" cy="838.5" r="5.5" fill="#2ca02c"/>
<circle cx="926.5" cy="838.5" r="10.0" fill="#fff"/><circle cx="926.5" cy="838.5" r="5.5" fill="#2ca02c"/>
<circle cx="930.5" cy="838.5" r="10.0" fill="#fff"/><circle cx="930.5" cy="838.5" r="5.5" fill="#2ca02c"/>
<circle cx="934.5" cy="838.5" r="10.0" fill="#fff"/><circle cx="934.5" cy="838.5" r="5.5" fill="#2ca02c"/>
<circle cx="939.5" cy="838.5" r="10.0" fill="#fff"/><circle cx="939.5" cy="838.5" r="5.5" fill="#2ca02c"/>
<circle cx="943.5" cy="838.5" r="10.0" fill="#fff"/><circle cx="943.5" cy="838.5" r="5.5" fill="#2ca02c"/>
<circle cx="947.5" cy="838.5" r="10.0" fill="#fff"/><circle cx="947.5" cy="838.5" r="5.5" fill="#2ca02c"/>
<circle cx="952.5" cy="838.5" r="10.0" fill="#fff"/><circle cx="952.5" cy="838.5" r="5.5" fill="#2ca02c"/>
<line x1="1097.5" y1="74.5" x2="1145.5" y2="74.5" stroke="#0060ad" stroke-width="2"/>
<circle cx="1121.5" cy="74.5" r="10.0" fill="#fff"/><circle cx="1121.5" cy="74.5" r="5.5" fill="#0060ad"/>
<line x1="1097.5" y1="93.5" x2="1145.5" y2="93.5" stroke="#ff7f0e" stroke-width="2"/>
<circle cx="1121.5" cy="93.5" r="10.0" fill="#fff"/><circle cx="1121.5" cy="93.5" r="5.5" fill="#ff7f0e"/>
<line x1="1097.5" y1="112.5" x2="1145.5" y2="112.5" stroke="#2ca02c" stroke-width="2"/>
<circle cx="1121.5" cy="112.5" r="10.0" fill="#fff"/><circle cx="1121.5" cy="112.5" r="5.5" fill="#2ca02c"/>
<g stroke="#000" stroke-width="1" fill="none">
<path d="M75.5 57.0 V838.5 H1166.0"/>
</g>
<g style="filter:grayscale(1)">
<text x="55.90" y="844.9" font-size="16.5" xml:space="preserve" textLength="8.56" lengthAdjust="spacingAndGlyphs">0</text>
<text x="55.90" y="732.9" font-size="16.5" xml:space="preserve" textLength="8.56" lengthAdjust="spacingAndGlyphs">5</text>
<text x="44.72" y="621.9" font-size="16.5" xml:space="preserve" textLength="19.77" lengthAdjust="spacingAndGlyphs">10</text>
<text x="44.72" y="509.9" font-size="16.5" xml:space="preserve" textLength="19.77" lengthAdjust="spacingAndGlyphs">15</text>
<text x="45.80" y="397.9" font-size="16.5" xml:space="preserve" textLength="18.68" lengthAdjust="spacingAndGlyphs">20</text>
<text x="45.80" y="286.9" font-size="16.5" xml:space="preserve" textLength="18.68" lengthAdjust="spacingAndGlyphs">25</text>
<text x="45.80" y="174.9" font-size="16.5" xml:space="preserve" textLength="18.68" lengthAdjust="spacingAndGlyphs">30</text>
<text x="45.80" y="62.9" font-size="16.5" xml:space="preserve" textLength="18.68" lengthAdjust="spacingAndGlyphs">35</text>
<text x="73.90" y="863.8" font-size="16.5" xml:space="preserve" textLength="8.56" lengthAdjust="spacingAndGlyphs">0</text>
<text x="286.70" y="863.8" font-size="16.5" xml:space="preserve" textLength="18.88" lengthAdjust="spacingAndGlyphs">50</text>
<text x="499.34" y="863.8" font-size="16.5" xml:space="preserve" textLength="29.25" lengthAdjust="spacingAndGlyphs">100</text>
<text x="717.55" y="863.8" font-size="16.5" xml:space="preserve" textLength="28.83" lengthAdjust="spacingAndGlyphs">150</text>
<text x="935.60" y="863.8" font-size="16.5" xml:space="preserve" textLength="28.78" lengthAdjust="spacingAndGlyphs">200</text>
<text x="1153.70" y="863.8" font-size="16.5" xml:space="preserve" textLength="29.99" lengthAdjust="spacingAndGlyphs">250</text>
<text x="588.00" y="891.3" font-size="17" xml:space="preserve" textLength="65.30" lengthAdjust="spacingAndGlyphs">Time (s)</text>
<text transform="translate(24.4 484.97) rotate(-90)" font-size="17" textLength="73.60" lengthAdjust="spacingAndGlyphs">Megabits</text>
<text x="1057.00" y="79.9" font-size="16.5" xml:space="preserve" textLength="28.90" lengthAdjust="spacingAndGlyphs">TCP</text>
<text x="1053.05" y="98.8" font-size="16.5" xml:space="preserve" textLength="32.95" lengthAdjust="spacingAndGlyphs">UDP</text>
<text x="968.69" y="117.7" font-size="16.5" xml:space="preserve" textLength="118.21" lengthAdjust="spacingAndGlyphs">IP (!TCP  !UDP)</text>
<text x="-2.4" y="35.1" font-size="17" textLength="6.6" lengthAdjust="spacingAndGlyphs">r</text>
<text x="4.30" y="35.1" font-size="17" xml:space="preserve" textLength="105.20" lengthAdjust="spacingAndGlyphs">0/searchlight</text>
<text x="109.80" y="35.1" font-size="17" xml:space="preserve" textLength="58.12" lengthAdjust="spacingAndGlyphs">/corpus</text>
<text x="167.40" y="35.1" font-size="17" xml:space="preserve" textLength="87.50" lengthAdjust="spacingAndGlyphs">/wireguard</text>
<text x="254.40" y="35.1" font-size="17" xml:space="preserve" textLength="96.00" lengthAdjust="spacingAndGlyphs">/experiment</text>
<text x="358.90" y="35.1" font-size="17" xml:space="preserve" textLength="40.59" lengthAdjust="spacingAndGlyphs">/eth1</text>
<text x="405.42" y="35.1" font-size="17" xml:space="preserve" textLength="66.06" lengthAdjust="spacingAndGlyphs">nterface</text>
<text x="471.00" y="35.1" font-size="17" xml:space="preserve" textLength="26.30" lengthAdjust="spacingAndGlyphs">/sts</text>
<text x="496.80" y="35.1" font-size="17" xml:space="preserve" textLength="85.68" lengthAdjust="spacingAndGlyphs">/exp-a-720</text>
<text x="583.80" y="35.1" font-size="17" xml:space="preserve" textLength="112.93" lengthAdjust="spacingAndGlyphs">-html5-http1c</text>
<text x="697.30" y="35.1" font-size="17" xml:space="preserve" textLength="105.09" lengthAdjust="spacingAndGlyphs">/1646711238</text>
<text x="804.40" y="35.1" font-size="17" xml:space="preserve" textLength="112.92" lengthAdjust="spacingAndGlyphs">-c0.c5s3wgsts</text>
<text x="918.99" y="35.1" font-size="17" xml:space="preserve" textLength="57.17" lengthAdjust="spacingAndGlyphs">.hdumb</text>
<text x="978.15" y="35.1" font-size="17" xml:space="preserve" textLength="59.58" lengthAdjust="spacingAndGlyphs">.pharos</text>
<text x="1039.20" y="35.1" font-size="17" xml:space="preserve" textLength="86.58" lengthAdjust="spacingAndGlyphs">-exp-a-720</text>
<text x="1127.30" y="35.1" font-size="17" xml:space="preserve" textLength="48.06" lengthAdjust="spacingAndGlyphs">-html5</text>
<text x="1176.80" y="35.1" font-size="17" xml:space="preserve" textLength="20.91" lengthAdjust="spacingAndGlyphs">-ht</text>
<text x="351.90" y="38.800000000000004" font-size="13.2" xml:space="preserve" textLength="6.60" lengthAdjust="spacingAndGlyphs">3</text>
<text x="401.70" y="38.800000000000004" font-size="13" xml:space="preserve" textLength="1.93" lengthAdjust="spacingAndGlyphs">i</text>
</g>
</svg></body></html>
